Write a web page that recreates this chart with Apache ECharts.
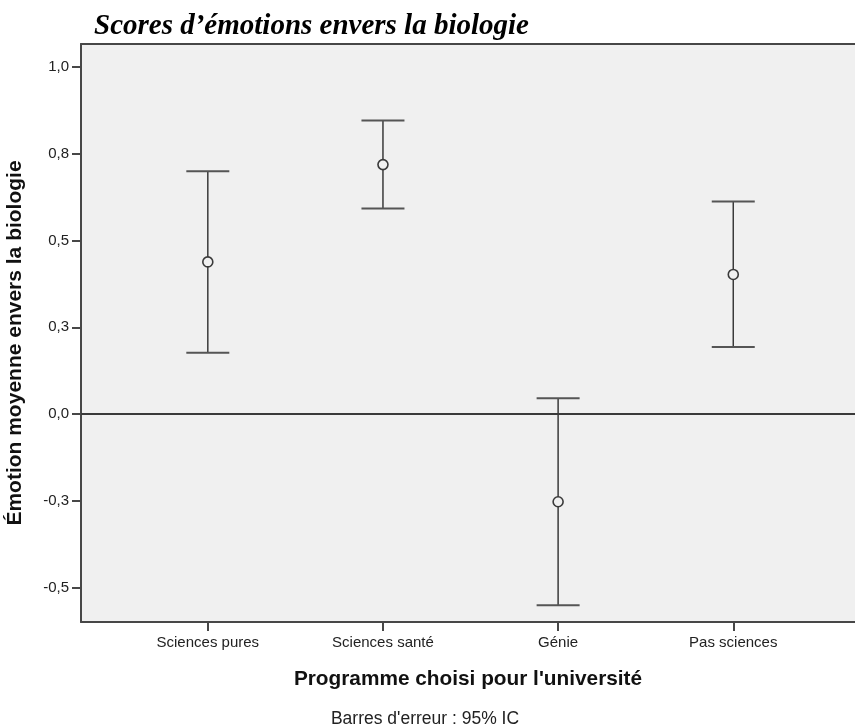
<!DOCTYPE html>
<html>
<head>
<meta charset="utf-8">
<script src="https://cdn.jsdelivr.net/npm/echarts@6/dist/echarts.min.js"></script>
<style>
  html, body { margin: 0; padding: 0; background: #ffffff; }
  #chart { width: 855px; height: 728px; }
</style>
</head>
<body>
<div id="chart"></div>
<script>
// Programme categories and mean emotion scores with 95% confidence limits
var categories = ['Sciences pures', 'Sciences santé', 'Génie', 'Pas sciences'];
var means  = [0.438, 0.718, -0.252, 0.402];
var ciLow  = [0.177, 0.592, -0.550, 0.193];
var ciHigh = [0.699, 0.845, 0.046, 0.612];

// Value-axis ticks and their printed labels
var yTickValues = [-0.5, -0.25, 0, 0.25, 0.5, 0.75, 1.0];
var yTickLabels = ['-0,5', '-0,3', '0,0', '0,3', '0,5', '0,8', '1,0'];

var catIndex = categories.map(function (c, i) { return i; });

var meanData = catIndex.map(function (i) { return [i, means[i]]; });
var barData = catIndex.map(function (i) { return [i, ciLow[i], ciHigh[i]]; });

var axisColor = '#474747';
var markColor = '#3a3a3a';
var sans = '"Liberation Sans", Arial, sans-serif';

var xMin = -0.724, xMax = 3.695;

var chart = echarts.init(document.getElementById('chart'), null, { renderer: 'canvas' });

chart.setOption({
  animation: false,
  backgroundColor: '#ffffff',
  grid: {
    left: 81, right: 0, top: 44, bottom: 106,
    show: true,
    backgroundColor: '#f0f0f0',
    borderWidth: 0
  },
  xAxis: [
    {
      type: 'value',
      position: 'bottom',
      min: xMin,
      max: xMax,
      splitLine: { show: false },
      axisLine: { show: true, onZero: false, lineStyle: { color: axisColor, width: 2 } },
      axisTick: { show: true, customValues: catIndex, length: 9, lineStyle: { color: axisColor, width: 2 } },
      axisLabel: {
        customValues: catIndex,
        margin: 13,
        color: '#222',
        fontFamily: sans,
        fontSize: 15,
        formatter: function (v) { return categories[Math.round(v)]; }
      },
      name: 'Programme choisi pour l\'université',
      nameLocation: 'middle',
      nameGap: 47,
      nameTextStyle: { color: '#111', fontFamily: sans, fontWeight: 'bold', fontSize: 20.8 }
    },
    {
      // top frame line of the plot area
      type: 'value',
      position: 'top',
      min: xMin,
      max: xMax,
      splitLine: { show: false },
      axisLine: { show: true, onZero: false, lineStyle: { color: axisColor, width: 2 } },
      axisTick: { show: false },
      axisLabel: { show: false }
    }
  ],
  yAxis: {
    type: 'value',
    min: -0.598,
    max: 1.065,
    splitLine: { show: false },
    axisLine: { show: true, onZero: false, lineStyle: { color: axisColor, width: 2 } },
    axisTick: { show: true, customValues: yTickValues, length: 9, lineStyle: { color: axisColor, width: 2 } },
    axisLabel: {
      customValues: yTickValues,
      margin: 12,
      color: '#222',
      fontFamily: sans,
      fontSize: 15,
      formatter: function (v) {
        for (var k = 0; k < yTickValues.length; k++) {
          if (Math.abs(yTickValues[k] - v) < 1e-6) return yTickLabels[k];
        }
        return '';
      }
    }
  },
  graphic: [
    {
      type: 'text',
      left: 94,
      top: 12,
      style: {
        text: 'Scores d’émotions envers la biologie',
        fill: '#000',
        font: 'italic bold 29px "Liberation Serif", "Times New Roman", serif'
      }
    },
    {
      type: 'text',
      x: 15,
      y: 343,
      rotation: Math.PI / 2,
      style: {
        text: 'Émotion moyenne envers la biologie',
        fill: '#111',
        align: 'center',
        verticalAlign: 'middle',
        font: 'bold 21px "Liberation Sans", Arial, sans-serif'
      }
    },
    {
      type: 'text',
      x: 425,
      y: 719,
      style: {
        text: 'Barres d\'erreur : 95% IC',
        fill: '#222',
        align: 'center',
        verticalAlign: 'middle',
        font: '17.5px "Liberation Sans", Arial, sans-serif'
      }
    }
  ],
  series: [
    {
      type: 'custom',
      name: 'IC 95%',
      data: barData,
      z: 2,
      renderItem: function (params, api) {
        var x = api.value(0);
        var lo = api.coord([x, api.value(1)]);
        var hi = api.coord([x, api.value(2)]);
        var half = 21.5;
        return {
          type: 'group',
          children: [
            {
              type: 'line',
              shape: { x1: lo[0], y1: lo[1], x2: hi[0], y2: hi[1] },
              style: { stroke: markColor, lineWidth: 1.5 }
            },
            {
              type: 'line',
              shape: { x1: hi[0] - half, y1: hi[1], x2: hi[0] + half, y2: hi[1] },
              style: { stroke: '#555', lineWidth: 2 }
            },
            {
              type: 'line',
              shape: { x1: lo[0] - half, y1: lo[1], x2: lo[0] + half, y2: lo[1] },
              style: { stroke: '#555', lineWidth: 2 }
            }
          ]
        };
      }
    },
    {
      type: 'scatter',
      name: 'Moyenne',
      data: meanData,
      z: 3,
      symbol: 'circle',
      symbolSize: 10,
      itemStyle: { color: '#f0f0f0', borderColor: markColor, borderWidth: 1.6, opacity: 1 },
      markLine: {
        silent: true,
        symbol: 'none',
        label: { show: false },
        lineStyle: { color: markColor, width: 2, type: 'solid' },
        data: [{ yAxis: 0 }]
      }
    }
  ]
});
</script>
</body>
</html>
